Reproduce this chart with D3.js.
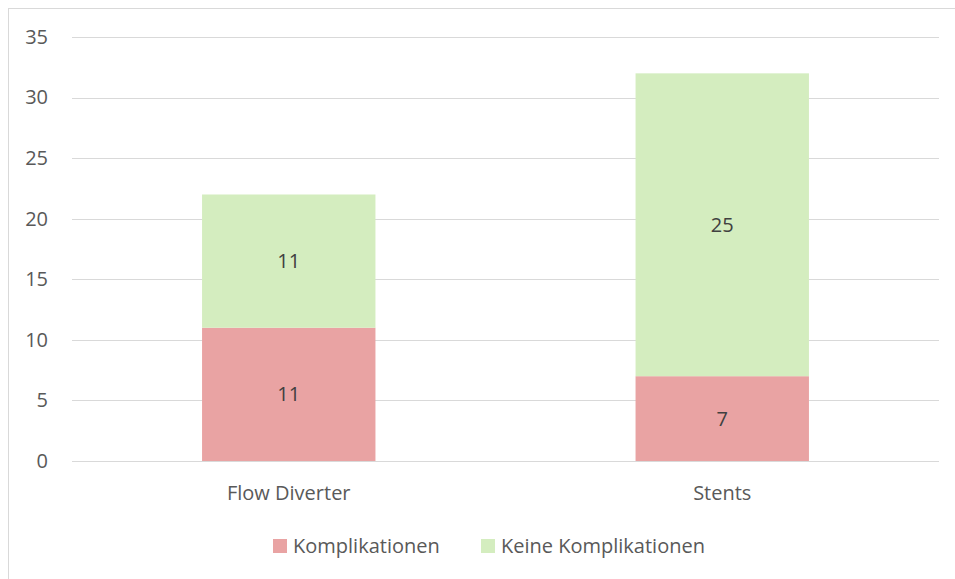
<!DOCTYPE html>
<html>
<head>
<meta charset="utf-8">
<script src="https://cdn.jsdelivr.net/npm/d3@7"></script>
<style>
  html, body { margin: 0; padding: 0; background: #fff; }
  svg { display: block; font-family: "Open Sans", sans-serif; }
</style>
</head>
<body>
<svg id="chart" width="955" height="579"></svg>
<script>
// data
const categories = ["Flow Diverter", "Stents"];
const seriesNames = ["Komplikationen", "Keine Komplikationen"];
const komplikationen = [11, 7];
const keineKomplikationen = [11, 25];
const yTicks = [0, 5, 10, 15, 20, 25, 30, 35];
const colors = ["#E9A3A3", "#D4EDBF"];

const svg = d3.select("#chart");
const margin = {top: 37, right: 16, bottom: 118, left: 72};
const width = 955 - margin.left - margin.right;
const height = 579 - margin.top - margin.bottom;
const fontSize = "20px";

// chart border
svg.append("rect")
    .attr("x", 8.5).attr("y", 8.5)
    .attr("width", 960).attr("height", 600)
    .attr("fill", "none")
    .attr("stroke", "#d9d9d9");

const g = svg.append("g")
    .attr("transform", `translate(${margin.left},${margin.top})`);

const x = d3.scaleBand()
    .domain(categories)
    .range([0, width])
    .paddingInner(0.6)
    .paddingOuter(0.3);

const y = d3.scaleLinear()
    .domain([0, 35])
    .range([height, 0]);

// gridlines
g.selectAll(".grid")
    .data(yTicks)
    .join("line")
    .attr("x1", 0).attr("x2", width)
    .attr("y1", d => Math.round(y(d)) + 0.5)
    .attr("y2", d => Math.round(y(d)) + 0.5)
    .attr("stroke", "#d9d9d9")
    .attr("stroke-width", 1);

// y axis labels
const yAxis = g.append("g")
    .call(d3.axisLeft(y).tickValues(yTicks).tickSize(0).tickPadding(24));
yAxis.select(".domain").remove();
yAxis.selectAll("text")
    .attr("fill", "#595959")
    .style("font-size", fontSize)
    .style("font-family", "Open Sans, sans-serif");

// x axis labels
const xAxis = g.append("g")
    .attr("transform", `translate(0,${height})`)
    .call(d3.axisBottom(x).tickSize(0).tickPadding(25));
xAxis.select(".domain").remove();
xAxis.selectAll("text")
    .attr("fill", "#595959")
    .style("font-size", fontSize)
    .style("font-family", "Open Sans, sans-serif");

// stacked data
const table = categories.map((c, i) => ({
  category: c,
  "Komplikationen": komplikationen[i],
  "Keine Komplikationen": keineKomplikationen[i]
}));
const stacked = d3.stack().keys(seriesNames)(table);

const layers = g.selectAll(".layer")
    .data(stacked)
    .join("g")
    .attr("fill", (d, i) => colors[i]);

layers.selectAll("rect")
    .data(d => d)
    .join("rect")
    .attr("x", d => x(d.data.category))
    .attr("width", x.bandwidth())
    .attr("y", d => y(d[1]))
    .attr("height", d => y(d[0]) - y(d[1]));

// value labels
layers.selectAll("text")
    .data(d => d)
    .join("text")
    .attr("x", d => x(d.data.category) + x.bandwidth() / 2)
    .attr("y", d => (y(d[0]) + y(d[1])) / 2)
    .attr("dy", "0.35em")
    .attr("text-anchor", "middle")
    .attr("fill", "#404040")
    .style("font-size", fontSize)
    .text(d => d[1] - d[0]);

// legend
const legend = svg.append("g").attr("transform", "translate(273,539)");
const legendX = [0, 208];
seriesNames.forEach((name, i) => {
  const item = legend.append("g").attr("transform", `translate(${legendX[i]},0)`);
  item.append("rect")
      .attr("width", 14).attr("height", 14)
      .attr("fill", colors[i]);
  item.append("text")
      .attr("x", 20).attr("y", 7)
      .attr("dy", "0.35em")
      .attr("fill", "#595959")
      .style("font-size", fontSize)
      .text(name);
});
</script>
</body>
</html>
